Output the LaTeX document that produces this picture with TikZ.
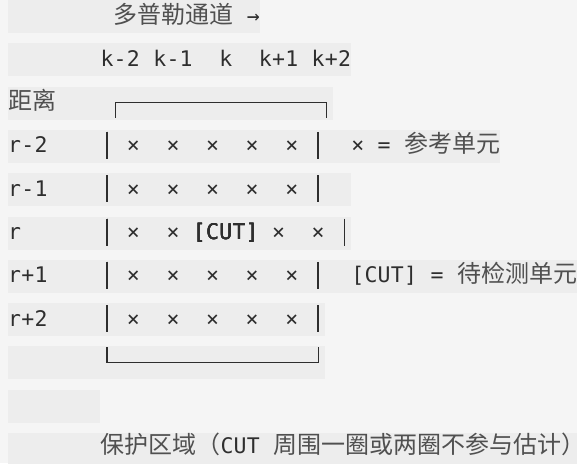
\documentclass[tikz,border=0pt]{standalone}
\usepackage{fontspec}
\newfontfamily\monof{DejaVu Sans Mono}
\newfontfamily\cjkf{Noto Sans CJK SC}
\definecolor{pagebg}{HTML}{F5F5F5}
\definecolor{linebg}{HTML}{EDEDED}
\definecolor{ink}{HTML}{2E2E2E}
\definecolor{cjkink}{HTML}{505050}
\tikzset{
  monochar/.style={inner sep=0pt, anchor=base, text=ink, font=\monof\fontsize{21.5}{24}\selectfont},
  cjk/.style={inner sep=0pt, anchor=base west, text=cjkink, font=\cjkf\fontsize{24}{28}\selectfont},
  rowbg/.style={fill=linebg},
  pipe/.style={draw=ink, line width=1.6pt},
  bracket/.style={draw=ink, line width=1.4pt, line cap=rect}
}
\ExplSyntaxOn
\int_new:N \l_grid_k_int
\int_new:N \g_grid_id_int
% #1 = baseline y, #2 = start x (pt), #3 = characters (no spaces)
\NewDocumentCommand\monotext{mmm}{
  \int_zero:N \l_grid_k_int
  \tl_map_inline:nn {#3}
   {
     \int_gincr:N \g_grid_id_int
     \node[monochar] (m\int_use:N \g_grid_id_int) at ({#2+13.2*(\int_use:N \l_grid_k_int+0.5)},{#1}) {##1};
     \int_incr:N \l_grid_k_int
   }
}
\ExplSyntaxOff
\newcommand\gx[1]{8+13.2*#1}
\newcommand\by[1]{43.3*#1+23}
\begin{document}
\begin{tikzpicture}[x=1pt,y=-1pt]
\fill[pagebg] (0,0) rectangle (577,463);
\useasboundingbox (0,0) rectangle (577,463);
% line highlights
\foreach \i/\e in {0/260, 1/351.2, 2/333.2, 3/500, 4/351.2, 5/351.2, 6/577, 7/324.8, 8/324.8, 9/100.4, 10/577}
  \fill[rowbg] (8,{43.3*\i}) rectangle (\e,{43.3*\i+33});
% row 0
\node[cjk] (doppler) at ({\gx{8}},23) {多普勒通道};
\monotext{23}{246.8}{→}
% row 1
\monotext{\by{1}}{\gx{7}}{k-2}
\monotext{\by{1}}{\gx{11}}{k-1}
\monotext{\by{1}}{\gx{16}}{k}
\monotext{\by{1}}{\gx{19}}{k+1}
\monotext{\by{1}}{\gx{23}}{k+2}
% row 2
\node[cjk] (range) at (8,{\by{2}}) {距离};
\coordinate (tl) at (115.4,102.5);
\coordinate (tr) at (326.6,102.5);
\draw[bracket] (115.4,117.5) -- (tl) -- (tr) -- (326.6,117.5);
% rows 3..7
\monotext{\by{3}}{\gx{0}}{r-2}
\monotext{\by{4}}{\gx{0}}{r-1}
\monotext{\by{5}}{\gx{0}}{r}
\monotext{\by{6}}{\gx{0}}{r+1}
\monotext{\by{7}}{\gx{0}}{r+2}
\foreach \r in {3,4,6,7}{
  \foreach \c in {9,12,15,18,21}
    \monotext{\by{\r}}{\gx{\c}}{×}
  \draw[pipe] ({\gx{7.5}},{43.3*\r+2}) -- ({\gx{7.5}},{43.3*\r+29});
  \draw[pipe] ({\gx{23.5}},{43.3*\r+2}) -- ({\gx{23.5}},{43.3*\r+29});
}
\foreach \c in {9,12,20,23}
  \monotext{\by{5}}{\gx{\c}}{×}
\monotext{\by{5}}{\gx{14}}{[CUT]}
\draw[pipe] ({\gx{7.5}},{43.3*5+2}) -- ({\gx{7.5}},{43.3*5+29});
\draw[pipe] ({\gx{25.5}},{43.3*5+2}) -- ({\gx{25.5}},{43.3*5+29});
% legends
\monotext{\by{3}}{\gx{26}}{×}
\monotext{\by{3}}{\gx{28}}{=}
\node[cjk] (refcell) at ({\gx{30}},{\by{3}}) {参考单元};
\monotext{\by{6}}{\gx{26}}{[CUT]}
\monotext{\by{6}}{\gx{32}}{=}
\node[cjk] (cutcell) at ({\gx{34}},{\by{6}}) {待检测单元};
% row 8 bottom bracket
\coordinate (bl) at ({\gx{7.5}},362.7);
\coordinate (br) at ({\gx{23.5}},362.7);
\draw[bracket] ({\gx{7.5}},348) -- (bl) -- (br) -- ({\gx{23.5}},348);
% row 10
\node[cjk] (guard1) at ({\gx{7}},453.5) {保护区域（};
\monotext{453.5}{220.4}{CUT}
\node[cjk] (guard2) at (273.2,453.5) {周围一圈或两圈不参与估计）};
\end{tikzpicture}
\end{document}
